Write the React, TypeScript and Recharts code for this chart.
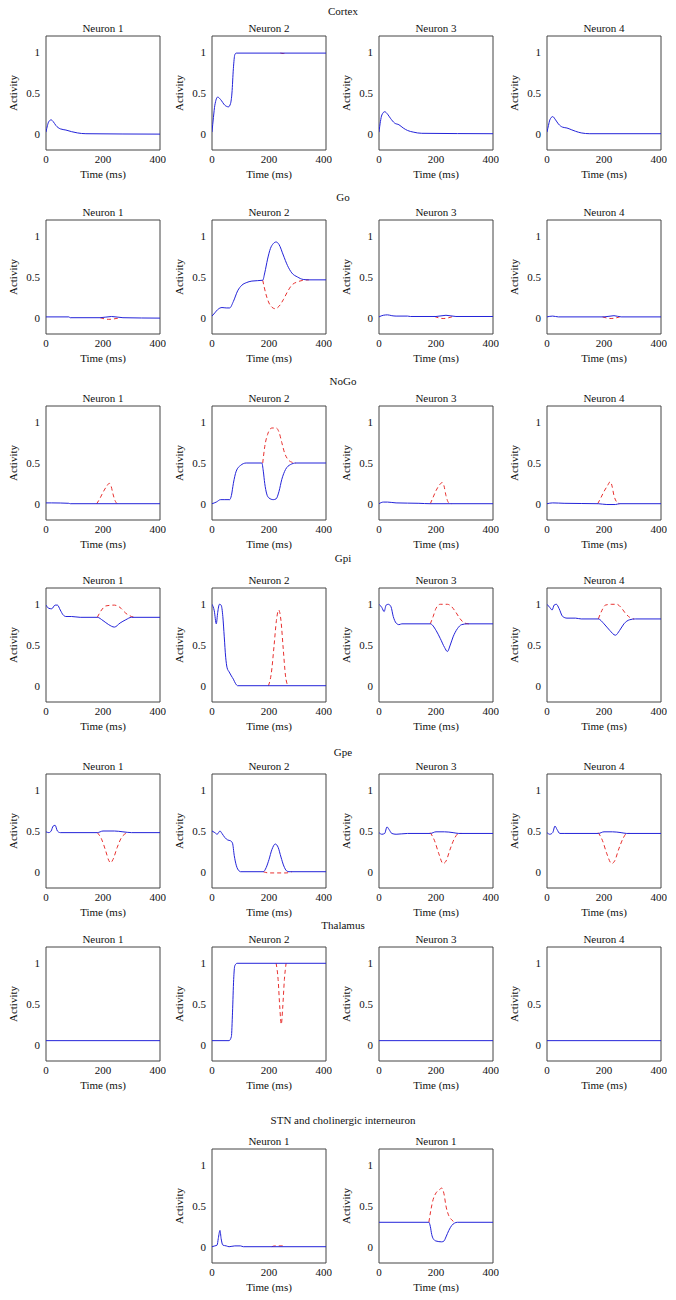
import React from 'react';
import { LineChart, Line, XAxis, YAxis, ReferenceArea } from 'recharts';

// [time (ms), activity]; red = dashed run, only where it departs from blue
const cortex1Blue = [[0, 0.02], [5, 0.1], [10, 0.15], [18, 0.17], [25, 0.15], [35, 0.1], [50, 0.06], [70, 0.045], [90, 0.025], [110, 0.01], [140, 0], [400, -0.005]];
const cortex2Blue = [[0, 0.02], [5, 0.2], [10, 0.35], [20, 0.45], [30, 0.42], [45, 0.35], [58, 0.33], [65, 0.37], [70, 0.5], [75, 0.8], [80, 0.97], [85, 0.99], [400, 0.99]];
const cortex2Red = [[240, 0.99], [250, 0.985], [260, 0.99]];
const cortex3Blue = [[0, 0.02], [5, 0.15], [10, 0.23], [20, 0.27], [30, 0.24], [40, 0.19], [55, 0.13], [70, 0.11], [85, 0.07], [100, 0.04], [120, 0.02], [150, 0.005], [400, 0]];
const cortex4Blue = [[0, 0.02], [5, 0.1], [10, 0.17], [20, 0.21], [30, 0.17], [40, 0.12], [55, 0.08], [70, 0.07], [85, 0.05], [100, 0.03], [120, 0.01], [150, 0], [400, 0]];

const go1Blue = [[0, 0.01], [80, 0.01], [85, 0], [190, 0], [230, 0.015], [270, 0], [400, -0.005]];
const go1Red = [[190, 0], [220, -0.02], [260, 0]];
const go2Blue = [[0, 0.02], [10, 0.06], [20, 0.1], [35, 0.125], [50, 0.12], [62, 0.12], [75, 0.2], [90, 0.33], [105, 0.4], [120, 0.43], [140, 0.45], [178, 0.46], [185, 0.55], [195, 0.72], [205, 0.85], [215, 0.91], [225, 0.93], [235, 0.9], [250, 0.77], [265, 0.64], [280, 0.55], [300, 0.5], [320, 0.47], [340, 0.465], [400, 0.465]];
const go2Red = [[178, 0.46], [183, 0.38], [190, 0.28], [200, 0.18], [210, 0.13], [222, 0.11], [235, 0.14], [250, 0.22], [265, 0.32], [280, 0.4], [300, 0.44], [320, 0.46], [340, 0.465]];
const go3Blue = [[0, 0.01], [15, 0.03], [30, 0.035], [45, 0.025], [60, 0.02], [100, 0.02], [110, 0.015], [200, 0.015], [235, 0.03], [270, 0.015], [400, 0.015]];
const go3Red = [[195, 0.015], [225, -0.01], [260, 0.015]];
const go4Blue = [[0, 0.01], [20, 0.02], [40, 0.01], [200, 0.01], [235, 0.025], [260, 0.01], [400, 0.01]];
const go4Red = [[195, 0.01], [225, -0.01], [255, 0.01]];

const nogo1Blue = [[0, 0.01], [20, 0.01], [80, 0.005], [85, 0], [400, 0]];
const nogo1Red = [[178, 0], [190, 0.07], [200, 0.14], [212, 0.21], [222, 0.25], [228, 0.22], [235, 0.12], [242, 0.04], [250, 0]];
const nogo2Blue = [[0, 0], [15, 0.02], [30, 0.05], [45, 0.05], [62, 0.05], [68, 0.1], [75, 0.25], [85, 0.4], [100, 0.47], [120, 0.5], [175, 0.5], [180, 0.4], [185, 0.25], [192, 0.12], [200, 0.07], [215, 0.05], [225, 0.06], [235, 0.15], [245, 0.3], [258, 0.42], [275, 0.48], [295, 0.5], [400, 0.5]];
const nogo2Red = [[178, 0.5], [185, 0.7], [195, 0.85], [210, 0.93], [225, 0.93], [235, 0.88], [245, 0.75], [255, 0.62], [265, 0.55], [280, 0.51], [295, 0.5]];
const nogo3Blue = [[0, 0], [15, 0.02], [30, 0.02], [60, 0.01], [140, 0.005], [180, 0], [400, 0]];
const nogo3Red = [[180, 0], [190, 0.08], [200, 0.16], [212, 0.23], [222, 0.26], [228, 0.22], [235, 0.1], [245, 0.01], [255, 0]];
const nogo4Blue = [[0, 0], [20, 0.01], [60, 0.005], [180, 0], [210, -0.01], [240, -0.01], [255, 0], [400, 0]];
const nogo4Red = [[178, 0], [190, 0.08], [200, 0.15], [212, 0.22], [222, 0.27], [228, 0.22], [235, 0.1], [245, 0.02], [255, 0]];

const gpi1Blue = [[0, 0.99], [10, 0.95], [20, 0.945], [32, 0.99], [40, 0.99], [50, 0.93], [60, 0.87], [70, 0.85], [90, 0.85], [120, 0.84], [180, 0.84], [200, 0.8], [220, 0.75], [240, 0.72], [260, 0.77], [280, 0.81], [300, 0.84], [400, 0.84]];
const gpi1Red = [[180, 0.84], [195, 0.93], [210, 0.98], [240, 0.99], [260, 0.96], [280, 0.89], [300, 0.85], [310, 0.84]];
const gpi2Blue = [[0, 1.0], [8, 0.92], [15, 0.76], [20, 0.9], [26, 1.0], [32, 0.99], [38, 0.85], [43, 0.6], [48, 0.35], [53, 0.22], [60, 0.17], [68, 0.12], [75, 0.08], [82, 0.03], [90, 0], [400, 0]];
const gpi2Red = [[198, 0], [208, 0.15], [218, 0.5], [226, 0.8], [234, 0.93], [242, 0.8], [250, 0.45], [258, 0.12], [266, 0]];
const gpi3Blue = [[0, 1.0], [10, 0.96], [18, 0.91], [25, 0.99], [33, 1.0], [42, 0.97], [50, 0.85], [60, 0.77], [70, 0.75], [80, 0.76], [180, 0.76], [200, 0.68], [215, 0.58], [230, 0.47], [240, 0.42], [250, 0.5], [260, 0.6], [275, 0.7], [290, 0.75], [310, 0.76], [400, 0.76]];
const gpi3Red = [[180, 0.76], [190, 0.85], [200, 0.95], [215, 1.0], [240, 1.0], [255, 0.97], [270, 0.9], [285, 0.82], [300, 0.77], [315, 0.76]];
const gpi4Blue = [[0, 1.0], [10, 0.96], [18, 0.93], [25, 0.99], [33, 1.0], [42, 0.95], [55, 0.85], [70, 0.83], [100, 0.83], [120, 0.82], [180, 0.82], [200, 0.76], [220, 0.68], [240, 0.62], [255, 0.68], [270, 0.76], [290, 0.81], [310, 0.82], [400, 0.82]];
const gpi4Red = [[180, 0.82], [192, 0.92], [205, 0.99], [225, 1.0], [245, 1.0], [260, 0.96], [275, 0.89], [290, 0.84], [305, 0.82]];

const gpe1Blue = [[0, 0.49], [10, 0.48], [18, 0.5], [25, 0.56], [32, 0.57], [40, 0.5], [50, 0.48], [180, 0.48], [200, 0.5], [240, 0.5], [270, 0.49], [300, 0.48], [400, 0.48]];
const gpe1Red = [[180, 0.48], [195, 0.4], [210, 0.25], [220, 0.14], [227, 0.11], [235, 0.15], [250, 0.3], [265, 0.42], [280, 0.47], [290, 0.48]];
const gpe2Blue = [[0, 0.5], [10, 0.48], [18, 0.46], [28, 0.5], [35, 0.47], [45, 0.42], [55, 0.39], [65, 0.38], [72, 0.35], [78, 0.2], [85, 0.08], [95, 0.01], [100, 0], [180, 0], [190, 0.05], [200, 0.15], [210, 0.27], [222, 0.34], [232, 0.3], [242, 0.18], [252, 0.07], [262, 0.01], [270, 0], [400, 0]];
const gpe2Red = [[180, 0], [200, -0.015], [260, -0.015], [280, 0]];
const gpe3Blue = [[0, 0.48], [10, 0.46], [20, 0.47], [28, 0.55], [35, 0.52], [45, 0.47], [60, 0.46], [100, 0.47], [180, 0.47], [200, 0.49], [230, 0.49], [260, 0.48], [280, 0.47], [400, 0.47]];
const gpe3Red = [[180, 0.48], [195, 0.38], [210, 0.22], [225, 0.1], [235, 0.13], [250, 0.28], [265, 0.41], [280, 0.47], [290, 0.47]];
const gpe4Blue = [[0, 0.48], [10, 0.46], [20, 0.48], [28, 0.56], [35, 0.52], [45, 0.47], [60, 0.47], [180, 0.47], [200, 0.49], [230, 0.49], [260, 0.48], [280, 0.47], [400, 0.47]];
const gpe4Red = [[180, 0.48], [195, 0.38], [210, 0.22], [227, 0.1], [237, 0.13], [252, 0.28], [267, 0.41], [280, 0.47], [290, 0.47]];

const thal1Blue = [[0, 0.05], [400, 0.05]];
const thal2Blue = [[0, 0.05], [60, 0.05], [68, 0.1], [72, 0.4], [76, 0.8], [80, 0.97], [88, 1.0], [400, 1.0]];
const thal2Red = [[225, 1.0], [232, 0.8], [238, 0.45], [243, 0.25], [248, 0.45], [254, 0.8], [260, 1.0]];
const thal3Blue = [[0, 0.05], [400, 0.05]];
const thal4Blue = [[0, 0.05], [400, 0.05]];

const stn1Blue = [[0, 0], [10, 0.01], [18, 0.02], [22, 0.1], [28, 0.2], [32, 0.1], [38, 0.02], [50, 0.01], [60, 0], [80, 0.01], [100, 0.01], [110, 0], [400, 0]];
const stn1Red = [[210, 0], [220, 0.01], [250, 0.01], [255, 0]];
const chol1Blue = [[0, 0.3], [175, 0.3], [180, 0.25], [185, 0.15], [190, 0.1], [200, 0.07], [220, 0.06], [228, 0.07], [235, 0.12], [245, 0.2], [255, 0.26], [265, 0.29], [275, 0.3], [400, 0.3]];
const chol1Red = [[175, 0.3], [182, 0.45], [190, 0.58], [200, 0.66], [212, 0.7], [220, 0.72], [228, 0.65], [235, 0.5], [245, 0.38], [255, 0.33], [265, 0.3]];

const xTicks = [0, 200, 400];
const yTicks = [0, 0.5, 1];
const cols = [46, 212, 379, 547];

const BLUE = '#2323d9';
const RED = '#e8312f';
const FONT = '"Liberation Serif", "Times New Roman", serif';
const BOX = 114;

const rows = [
  { title: 'Cortex', titleY: 11, top: 36, panels: [
    { name: 'Neuron 1', left: cols[0], blue: cortex1Blue },
    { name: 'Neuron 2', left: cols[1], blue: cortex2Blue, red: cortex2Red },
    { name: 'Neuron 3', left: cols[2], blue: cortex3Blue },
    { name: 'Neuron 4', left: cols[3], blue: cortex4Blue },
  ] },
  { title: 'Go', titleY: 197, top: 220, panels: [
    { name: 'Neuron 1', left: cols[0], blue: go1Blue, red: go1Red },
    { name: 'Neuron 2', left: cols[1], blue: go2Blue, red: go2Red },
    { name: 'Neuron 3', left: cols[2], blue: go3Blue, red: go3Red },
    { name: 'Neuron 4', left: cols[3], blue: go4Blue, red: go4Red },
  ] },
  { title: 'NoGo', titleY: 381, top: 406, panels: [
    { name: 'Neuron 1', left: cols[0], blue: nogo1Blue, red: nogo1Red },
    { name: 'Neuron 2', left: cols[1], blue: nogo2Blue, red: nogo2Red },
    { name: 'Neuron 3', left: cols[2], blue: nogo3Blue, red: nogo3Red },
    { name: 'Neuron 4', left: cols[3], blue: nogo4Blue, red: nogo4Red },
  ] },
  { title: 'Gpi', titleY: 558, top: 588, panels: [
    { name: 'Neuron 1', left: cols[0], blue: gpi1Blue, red: gpi1Red },
    { name: 'Neuron 2', left: cols[1], blue: gpi2Blue, red: gpi2Red },
    { name: 'Neuron 3', left: cols[2], blue: gpi3Blue, red: gpi3Red },
    { name: 'Neuron 4', left: cols[3], blue: gpi4Blue, red: gpi4Red },
  ] },
  { title: 'Gpe', titleY: 752, top: 774, panels: [
    { name: 'Neuron 1', left: cols[0], blue: gpe1Blue, red: gpe1Red },
    { name: 'Neuron 2', left: cols[1], blue: gpe2Blue, red: gpe2Red },
    { name: 'Neuron 3', left: cols[2], blue: gpe3Blue, red: gpe3Red },
    { name: 'Neuron 4', left: cols[3], blue: gpe4Blue, red: gpe4Red },
  ] },
  { title: 'Thalamus', titleY: 925, top: 947, panels: [
    { name: 'Neuron 1', left: cols[0], blue: thal1Blue },
    { name: 'Neuron 2', left: cols[1], blue: thal2Blue, red: thal2Red },
    { name: 'Neuron 3', left: cols[2], blue: thal3Blue },
    { name: 'Neuron 4', left: cols[3], blue: thal4Blue },
  ] },
  { title: 'STN and cholinergic interneuron', titleY: 1120, top: 1149, panels: [
    { name: 'Neuron 1', left: cols[1], blue: stn1Blue, red: stn1Red },
    { name: 'Neuron 1', left: cols[2], blue: chol1Blue, red: chol1Red },
  ] },
];

const toPts = (arr: number[][]) => arr.map(([t, v]) => ({ t, v }));

const tickStyle = { fontSize: 11, fill: '#111', fontFamily: FONT };

const timeLabel = (p: any) => {
  const vb = p.viewBox;
  return (
    <text x={vb.x + vb.width / 2} y={vb.y + 28} textAnchor="middle" fontSize={11} fontFamily={FONT} fill="#111">
      Time (ms)
    </text>
  );
};

const activityLabel = (p: any) => {
  const vb = p.viewBox;
  const cx = vb.x + vb.width - 33;
  const cy = vb.y + vb.height / 2;
  return (
    <text x={cx} y={cy} dy={4} textAnchor="middle" transform={`rotate(-90 ${cx} ${cy})`} fontSize={11} fontFamily={FONT} fill="#111">
      Activity
    </text>
  );
};

function Panel({ name, left, top, blue, red }: any) {
  return (
    <>
      <div style={{ position: 'absolute', left: left - 20, top: top - 14, width: BOX + 40, textAlign: 'center', fontSize: 11, lineHeight: '12px', fontFamily: FONT, color: '#111' }}>
        {name}
      </div>
      <div style={{ position: 'absolute', left: left - 66, top: top - 4 }}>
        <LineChart width={66 + BOX + 6} height={4 + BOX + 36} margin={{ top: 4, right: 6, bottom: 0, left: 0 }}>
          <XAxis
            type="number"
            dataKey="t"
            domain={[0, 400]}
            ticks={xTicks}
            allowDataOverflow
            axisLine={false}
            tickLine={false}
            tickSize={0}
            tickMargin={5}
            height={36}
            tick={tickStyle}
            label={timeLabel}
          />
          <YAxis
            type="number"
            domain={[-0.2, 1.2]}
            ticks={yTicks}
            allowDataOverflow
            axisLine={false}
            tickLine={false}
            tickSize={0}
            tickMargin={6}
            width={66}
            tick={tickStyle}
            label={activityLabel}
          />
          <ReferenceArea x1={0} x2={400} y1={-0.2} y2={1.2} fill="none" stroke="#444" strokeWidth={1} fillOpacity={0} />
          {red && (
            <Line data={toPts(red)} dataKey="v" type="monotone" stroke={RED} strokeWidth={1} strokeDasharray="4 3" dot={false} activeDot={false} isAnimationActive={false} />
          )}
          <Line data={toPts(blue)} dataKey="v" type="monotone" stroke={BLUE} strokeWidth={1} dot={false} activeDot={false} isAnimationActive={false} />
        </LineChart>
      </div>
    </>
  );
}

export default function App() {
  return (
    <div style={{ position: 'absolute', left: 0, top: 0, width: 676, height: 1300, background: '#fff', fontFamily: FONT }}>
      {rows.map((row, ri) => (
        <React.Fragment key={ri}>
          <div style={{ position: 'absolute', left: 0, top: row.titleY - 6, width: 686, textAlign: 'center', fontSize: 11, lineHeight: '12px', color: '#111' }}>
            {row.title}
          </div>
          {row.panels.map((p, pi) => (
            <Panel key={pi} {...p} top={row.top} />
          ))}
        </React.Fragment>
      ))}
    </div>
  );
}
